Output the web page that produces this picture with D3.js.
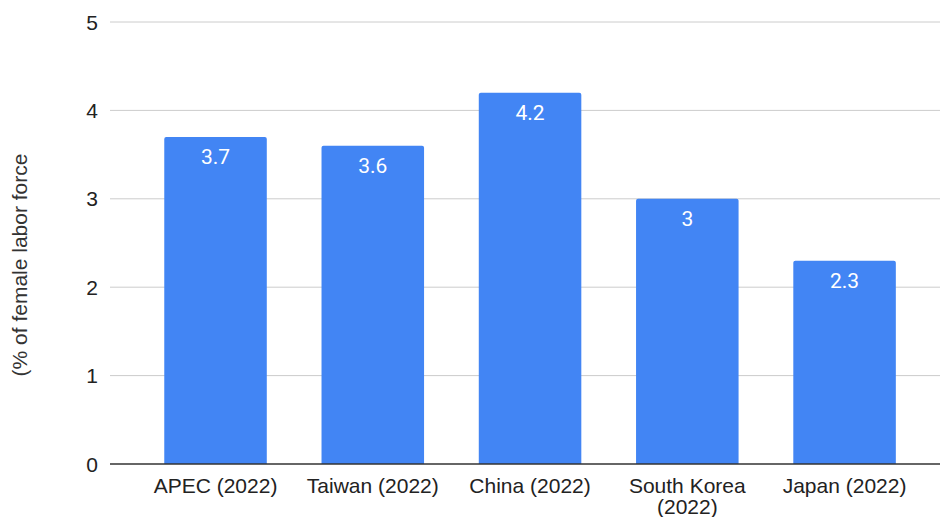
<!doctype html>
<html>
<head>
<meta charset="utf-8">
<script src="https://d3js.org/d3.v7.min.js"></script>
<style>
  body { margin: 0; background: #fff; }
  text { font-family: Arial, "Liberation Sans", sans-serif; }
</style>
</head>
<body>
<script>
var categories = ["APEC (2022)", "Taiwan (2022)", "China (2022)", "South Korea (2022)", "Japan (2022)"];
var values = [3.7, 3.6, 4.2, 3, 2.3];
var yTicks = [0, 1, 2, 3, 4, 5];
var yTitle = "(% of female labor force";

var width = 940, height = 517;
var svg = d3.select("body").append("svg")
    .attr("width", width).attr("height", height);

var x = d3.scaleBand()
    .domain(categories)
    .range([136.9, 923.2])
    .paddingInner(0.348)
    .paddingOuter(0.174);

var y = d3.scaleLinear().domain([0, 5]).range([464, 22]);

// gridlines
svg.append("g")
    .selectAll("line")
    .data(yTicks.filter(function(d) { return d > 0; }))
    .enter().append("line")
    .attr("x1", 110).attr("x2", 940)
    .attr("y1", function(d) { return y(d); })
    .attr("y2", function(d) { return y(d); })
    .attr("stroke", "#cccccc")
    .attr("stroke-width", 1);

// y tick labels
svg.append("g")
    .selectAll("text")
    .data(yTicks)
    .enter().append("text")
    .attr("x", 98)
    .attr("y", function(d) { return y(d); })
    .attr("dy", "0.36em")
    .attr("text-anchor", "end")
    .attr("font-size", 21)
    .attr("fill", "#222")
    .text(function(d) { return d; });

// bars with slightly rounded tops
function barPath(x0, w, yt, yb, r) {
    return "M" + x0 + "," + yb +
        "V" + (yt + r) +
        "Q" + x0 + "," + yt + " " + (x0 + r) + "," + yt +
        "H" + (x0 + w - r) +
        "Q" + (x0 + w) + "," + yt + " " + (x0 + w) + "," + (yt + r) +
        "V" + yb + "Z";
}

svg.append("g")
    .selectAll("path")
    .data(values)
    .enter().append("path")
    .attr("d", function(d, i) {
        return barPath(x(categories[i]), x.bandwidth(), y(d), y(0), 2);
    })
    .attr("fill", "#4285f4");

// value labels
svg.append("g")
    .selectAll("text")
    .data(values)
    .enter().append("text")
    .attr("x", function(d, i) { return x(categories[i]) + x.bandwidth() / 2; })
    .attr("y", function(d) { return y(d) + 27; })
    .attr("text-anchor", "middle")
    .attr("font-size", 21)
    .style("font-family", "Roboto, Arial, sans-serif")
    .attr("fill", "#fff")
    .text(function(d) { return d; });

// baseline
svg.append("line")
    .attr("x1", 110).attr("x2", 940)
    .attr("y1", y(0)).attr("y2", y(0))
    .attr("stroke", "#333")
    .attr("stroke-width", 1.3);

// x labels (wrap long ones)
var xl = svg.append("g")
    .selectAll("text")
    .data(categories)
    .enter().append("text")
    .attr("x", function(d) { return x(d) + x.bandwidth() / 2; })
    .attr("y", 493)
    .attr("text-anchor", "middle")
    .attr("font-size", 21)
    .attr("fill", "#222");

xl.each(function(d) {
    var t = d3.select(this);
    var cx = x(d) + x.bandwidth() / 2;
    if (t.text(d).node().getComputedTextLength() > 150) {
        var parts = d.split(" (");
        t.text(null);
        t.append("tspan").attr("x", cx).attr("dy", 0).text(parts[0]);
        t.append("tspan").attr("x", cx).attr("dy", 21).text("(" + parts[1]);
    }
});

// y title
svg.append("text")
    .attr("transform", "translate(27,265) rotate(-90)")
    .attr("text-anchor", "middle")
    .attr("font-size", 21)
    .attr("fill", "#333")
    .text(yTitle);
</script>
</body>
</html>
